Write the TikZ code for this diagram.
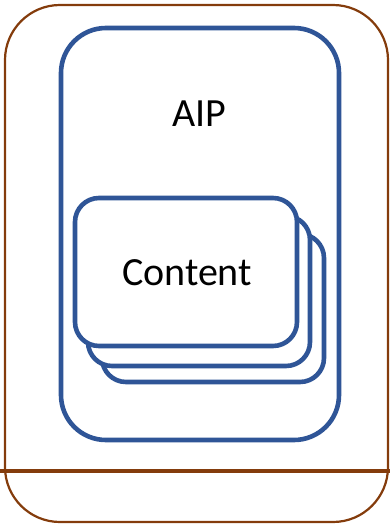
\documentclass[tikz,border=0pt]{standalone}
\usepackage{fontspec}
\setmainfont{Carlito}
\definecolor{aipblue}{HTML}{2F5597}
\definecolor{framebrown}{HTML}{843C0C}
\tikzset{
  bluebox/.style={draw=aipblue, line width=4.6pt, fill=white},
  lbl/.style={font=\fontsize{40}{46}\selectfont, text=black},
}
\begin{document}
\begin{tikzpicture}[x=1pt,y=-1pt]
\useasboundingbox (0,0) rectangle (390,525);
% outer frame
\draw[framebrown, line width=2.2pt, rounded corners=55pt] (5,5) rectangle (388,522);
\draw[framebrown, line width=4.4pt] (0,471) -- (390,471);
% AIP box
\draw[bluebox, rounded corners=45pt] (61,28) rectangle (339,440);
\node[lbl] (aip) at (199,114) {AIP};
% stacked content boxes
\draw[bluebox, rounded corners=24pt] (102,234) rectangle (324,382);
\draw[bluebox, rounded corners=24pt] (88,216) rectangle (310,366);
\draw[bluebox, rounded corners=24pt] (75,198) rectangle (297,346);
\node[lbl] (content) at (187,273) {Content};
\end{tikzpicture}
\end{document}
